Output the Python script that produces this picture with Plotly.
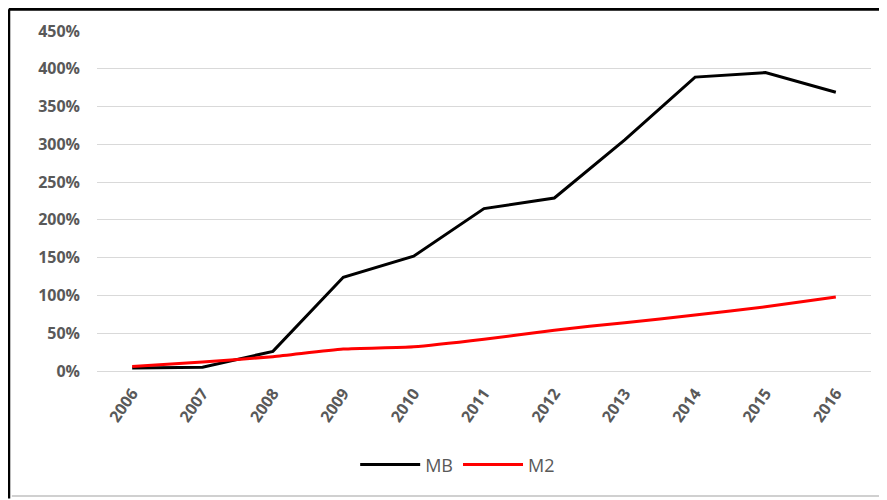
import plotly.graph_objects as go

# data (growth since 2006, as fractions)
years = ["2006", "2007", "2008", "2009", "2010", "2011",
         "2012", "2013", "2014", "2015", "2016"]
mb_growth = [0.04, 0.05, 0.26, 1.24, 1.52, 2.15, 2.29, 3.06, 3.89, 3.95, 3.69]
m2_growth = [0.06, 0.12, 0.19, 0.29, 0.32, 0.42, 0.54, 0.64, 0.74, 0.85, 0.98]
y_ticks = [0, 0.5, 1.0, 1.5, 2.0, 2.5, 3.0, 3.5, 4.0, 4.5]

TICK_GREY = "#595959"
GRID_GREY = "#d9d9d9"
FONT = "Open Sans"

fig = go.Figure()
fig.add_trace(go.Scatter(
    x=years, y=mb_growth, name="MB", mode="lines",
    line=dict(color="black", width=3),
))
fig.add_trace(go.Scatter(
    x=years, y=m2_growth, name="M2", mode="lines",
    line=dict(color="#ff0000", width=3, shape="spline", smoothing=0.6),
))

# frame around the chart (screenshot border: dark top/left, light bottom)
frame = [
    dict(x0=-0.114, x1=1.04, y0=1.064, y1=1.064, color="black", width=3),
    dict(x0=-0.114, x1=-0.114, y0=-0.375, y1=1.064, color="black", width=3),
    dict(x0=-0.11, x1=1.04, y0=-0.368, y1=-0.368, color="#d0d0d0", width=2),
]
for f in frame:
    fig.add_shape(type="line", xref="paper", yref="paper",
                  x0=f["x0"], x1=f["x1"], y0=f["y0"], y1=f["y1"],
                  line=dict(color=f["color"], width=f["width"]))

fig.update_layout(
    width=887, height=500,
    margin=dict(l=89, r=24, t=23, b=137, autoexpand=False),
    paper_bgcolor="white", plot_bgcolor="white",
    font=dict(family=FONT, color=TICK_GREY),
    showlegend=True,
    legend=dict(
        orientation="h", x=0.466, xanchor="center", y=-0.276, yanchor="middle",
        font=dict(size=18, color=TICK_GREY), itemwidth=60,
    ),
)
fig.update_xaxes(
    type="category", range=[-0.5, 10.5], automargin=False,
    tickangle=-55, showgrid=False, showline=False, ticks="",
    ticklabelstandoff=9,
    tickfont=dict(family=FONT, size=16, color=TICK_GREY, weight="bold"),
)
fig.update_yaxes(
    range=[0, 4.5], tickvals=y_ticks, tickformat=".0%", automargin=False,
    showgrid=True, gridcolor=GRID_GREY, gridwidth=1,
    zeroline=True, zerolinecolor=GRID_GREY, zerolinewidth=1,
    showline=False, ticks="", ticklabelstandoff=16,
    tickfont=dict(family=FONT, size=16, color=TICK_GREY, weight="bold"),
)

fig.write_html("out.html")
